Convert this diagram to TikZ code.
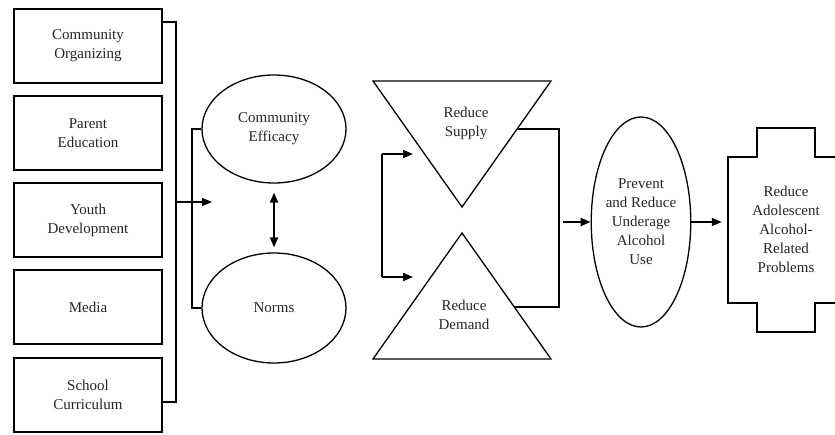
\documentclass[tikz,border=0pt]{standalone}
\usepackage{fontspec}
\setmainfont{Liberation Serif}
\usetikzlibrary{arrows.meta,shapes.geometric}
\begin{document}
\begin{tikzpicture}[x=1pt,y=-1pt,
  every node/.style={font=\fontsize{15}{19}\selectfont, align=center, text=black!85},
  boxnode/.style={draw, line width=2pt, minimum width=148pt, minimum height=74pt, inner sep=0pt},
  ellnode/.style={draw, ellipse, line width=1.3pt, inner sep=0pt},
  thinln/.style={line width=1.2pt},
  thickln/.style={line width=2pt},
  arr/.style={-{Triangle[length=10pt,width=8pt]}},
  darr/.style={{Triangle[length=10pt,width=8pt]}-{Triangle[length=10pt,width=8pt]}},
  outl/.style={line width=1.3pt, line join=miter}
]
\useasboundingbox (0,0) rectangle (835,435);
\clip (0,0) rectangle (835,435);
\fill[white] (0,0) rectangle (835,435);

% left boxes
\node[boxnode] (b1) at (88,46) {Community\\Organizing};
\node[boxnode] (b2) at (88,133) {Parent\\Education};
\node[boxnode] (b3) at (88,220.5) {Youth\\Development};
\node[boxnode] (b4) at (88,307.5) {Media};
\node[boxnode] (b5) at (88,395) {School\\Curriculum};

% first bracket
\coordinate (j1) at (176,22);
\coordinate (j2) at (176,402);
\draw[thinln] (b1.east|-j1) -- (j1) -- (j2) -- (b5.east|-j2);
\coordinate (a0) at (176,202);
\coordinate (a1) at (212,202);
\draw[thinln, arr] (a0) -- (a1);

% ellipses
\node[ellnode, minimum width=144pt, minimum height=108pt] (ce) at (274,129) {Community\\Efficacy};
\node[ellnode, minimum width=144pt, minimum height=110pt] (no) at (274,308) {Norms};
\coordinate (j3) at (192,220);
\draw[thickln] (ce.west) -| (j3) |- (no.west);
\draw[thickln, darr, shorten <=9pt, shorten >=5pt] (ce.south) -- (no.north);

% triangles
\coordinate (s1) at (373,81);
\coordinate (s2) at (551,81);
\coordinate (s3) at (462,207);
\coordinate (d1) at (462,233);
\coordinate (d2) at (551,359);
\coordinate (d3) at (373,359);
\draw[outl] (s1) -- (s2) -- (s3) -- cycle;
\draw[outl] (d1) -- (d2) -- (d3) -- cycle;
\node (sup) at (466,123) {Reduce\\Supply};
\node (dem) at (464,315) {Reduce\\Demand};

% left arrows to triangles
\coordinate (l1) at (382,154);
\coordinate (l2) at (382,277);
\coordinate (l1e) at (413,154);
\coordinate (l2e) at (413,277);
\draw[thickln] (l1) -- (l2);
\draw[thickln, arr] (l1) -- (l1e);
\draw[thickln, arr] (l2) -- (l2e);

% right bracket
\coordinate (r1) at (517,129);
\coordinate (r2) at (559,129);
\coordinate (r3) at (559,307);
\coordinate (r4) at (514,307);
\draw[thinln] (r1) -- (r2) -- (r3) -- (r4);
\draw[thickln] (r1) -- ++(10,0);

% prevent ellipse
\node[ellnode, minimum width=91pt, minimum height=210pt] (pe) at (641,222) {Prevent\\and Reduce\\Underage\\Alcohol\\Use};
\coordinate (a2) at (563,222);
\draw[thickln, arr] (a2) -- (pe.west);

% cross shape
\draw[outl] (728,157) -- (757,157) -- (757,128) -- (815,128) -- (815,157) -- (844,157) -- (844,303) -- (815,303) -- (815,332) -- (757,332) -- (757,303) -- (728,303) -- cycle;
\node[minimum width=116pt, minimum height=146pt, inner sep=0pt] (cr) at (786,229) {Reduce\\Adolescent\\Alcohol-\\Related\\Problems};
\draw[thinln, arr, shorten >=6pt] (pe.east) -- (pe.east -| cr.west);
\end{tikzpicture}
\end{document}
